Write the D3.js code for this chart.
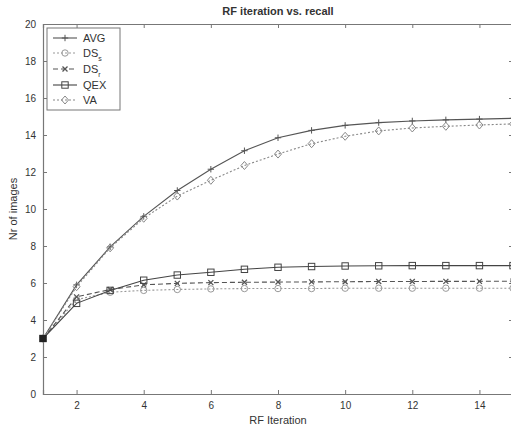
<!DOCTYPE html>
<html>
<head>
<meta charset="utf-8">
<script src="https://cdn.jsdelivr.net/npm/d3@7"></script>
<style>
  body { margin: 0; background: #fff; }
  text { font-family: "Liberation Sans", Arial, sans-serif; fill: #333; }
</style>
</head>
<body>
<div id="chart"></div>
<script>
var iterations = [1, 2, 3, 4, 5, 6, 7, 8, 9, 10, 11, 12, 13, 14, 15];
var avg = [3, 5.9, 7.95, 9.6, 11.0, 12.15, 13.15, 13.85, 14.25, 14.52, 14.67, 14.76, 14.82, 14.86, 14.9];
var dsS = [3, 5.1, 5.5, 5.6, 5.65, 5.68, 5.7, 5.7, 5.7, 5.72, 5.72, 5.72, 5.72, 5.72, 5.72];
var dsR = [3, 5.25, 5.65, 5.9, 5.98, 6.02, 6.04, 6.05, 6.06, 6.07, 6.08, 6.08, 6.09, 6.09, 6.1];
var qex = [3, 4.9, 5.6, 6.15, 6.43, 6.58, 6.74, 6.85, 6.89, 6.92, 6.93, 6.94, 6.94, 6.94, 6.94];
var va = [3, 5.8, 7.9, 9.5, 10.7, 11.55, 12.35, 12.97, 13.53, 13.93, 14.22, 14.38, 14.47, 14.54, 14.6];
var xTicks = [2, 4, 6, 8, 10, 12, 14];
var yTicks = [0, 2, 4, 6, 8, 10, 12, 14, 16, 18, 20];

var width = 511, height = 432;
var margin = {top: 24, left: 43, right: -2, bottom: 38};

var svg = d3.select("#chart")
  .append("svg")
  .attr("width", width)
  .attr("height", height);

var xScale = d3.scaleLinear()
  .domain([1, 15])
  .range([margin.left, width - margin.right]);

var yScale = d3.scaleLinear()
  .domain([0, 20])
  .range([height - margin.bottom, margin.top]);

var axisColor = "#777";

// bottom + top axes, ticks pointing inward
var xAxis = svg.append("g")
  .attr("transform", `translate(0,${yScale(0)})`)
  .call(d3.axisBottom(xScale).tickValues(xTicks).tickSize(-4).tickPadding(8).tickFormat(d3.format("d")));
svg.append("g")
  .attr("transform", `translate(0,${yScale(20)})`)
  .call(d3.axisTop(xScale).tickValues(xTicks).tickSize(-4).tickFormat(""));

var yAxis = svg.append("g")
  .attr("transform", `translate(${xScale(1)},0)`)
  .call(d3.axisLeft(yScale).tickValues(yTicks).tickSize(-4).tickPadding(7));
svg.append("g")
  .attr("transform", `translate(${xScale(15)},0)`)
  .call(d3.axisRight(yScale).tickValues(yTicks).tickSize(-4).tickFormat(""));

svg.selectAll(".domain").attr("stroke", axisColor).attr("stroke-width", 1.2);
svg.selectAll(".tick line").attr("stroke", axisColor);
svg.selectAll(".tick text").attr("font-size", 10).attr("fill", "#333")
  .attr("font-family", "Liberation Sans, Arial, sans-serif");

var series = [
  {name: "AVG", sub: "", values: avg, color: "#555", dash: null, marker: "plus"},
  {name: "DS", sub: "s", values: dsS, color: "#999", dash: "2,2", marker: "circle"},
  {name: "DS", sub: "r", values: dsR, color: "#555", dash: "5,3", marker: "cross"},
  {name: "QEX", sub: "", values: qex, color: "#444", dash: null, marker: "square"},
  {name: "VA", sub: "", values: va, color: "#888", dash: "2,2", marker: "diamond"}
];

var line = d3.line()
  .x(function(d, i) { return xScale(iterations[i]); })
  .y(function(d) { return yScale(d); });

function drawMarker(g, type, x, y, color) {
  var s = 3.2;
  if (type === "plus") {
    g.append("path").attr("d", `M${x - s},${y}H${x + s}M${x},${y - s}V${y + s}`)
      .attr("stroke", color).attr("fill", "none");
  } else if (type === "cross") {
    g.append("path").attr("d", `M${x - 2.5},${y - 2.5}L${x + 2.5},${y + 2.5}M${x - 2.5},${y + 2.5}L${x + 2.5},${y - 2.5}`)
      .attr("stroke", color).attr("stroke-width", 1.3).attr("fill", "none");
  } else if (type === "circle") {
    g.append("circle").attr("cx", x).attr("cy", y).attr("r", s)
      .attr("stroke", color).attr("fill", "none");
  } else if (type === "square") {
    g.append("rect").attr("x", x - s).attr("y", y - s).attr("width", 2 * s).attr("height", 2 * s)
      .attr("stroke", color).attr("fill", "none");
  } else if (type === "diamond") {
    g.append("path").attr("d", `M${x},${y - 4}L${x + 3.5},${y}L${x},${y + 4}L${x - 3.5},${y}Z`)
      .attr("stroke", color).attr("fill", "none");
  }
}

var plot = svg.append("g");
series.forEach(function(s) {
  plot.append("path")
    .datum(s.values)
    .attr("d", line)
    .attr("fill", "none")
    .attr("stroke", s.color)
    .attr("stroke-width", 1.1)
    .attr("stroke-dasharray", s.dash);
  var mg = plot.append("g");
  s.values.forEach(function(v, i) {
    drawMarker(mg, s.marker, xScale(iterations[i]), yScale(v), s.color);
  });
});

// start point looks filled in the reference
plot.append("rect")
  .attr("x", xScale(1) - 3.5).attr("y", yScale(qex[0]) - 3.5)
  .attr("width", 7).attr("height", 7).attr("fill", "#222");

// title and axis labels
svg.append("text")
  .attr("x", (xScale(1) + xScale(15)) / 2)
  .attr("y", 15)
  .attr("text-anchor", "middle")
  .attr("font-weight", "bold")
  .attr("font-size", 11)
  .text("RF iteration vs. recall");

svg.append("text")
  .attr("x", (xScale(1) + xScale(15)) / 2)
  .attr("y", 424)
  .attr("text-anchor", "middle")
  .attr("font-size", 11)
  .text("RF Iteration");

svg.append("text")
  .attr("transform", `translate(17,${(yScale(0) + yScale(20)) / 2}) rotate(-90)`)
  .attr("text-anchor", "middle")
  .attr("font-size", 11)
  .text("Nr of images");

// legend
var legend = svg.append("g");
legend.append("rect")
  .attr("x", 47).attr("y", 28).attr("width", 73).attr("height", 82)
  .attr("fill", "#fff").attr("stroke", axisColor);

var legendY = [38, 53, 69, 85, 100];
series.forEach(function(s, i) {
  var y = legendY[i];
  legend.append("line")
    .attr("x1", 53).attr("x2", 77).attr("y1", y).attr("y2", y)
    .attr("stroke", s.color).attr("stroke-width", 1.1)
    .attr("stroke-dasharray", s.dash);
  drawMarker(legend, s.marker, 65, y, s.color);
  var t = legend.append("text")
    .attr("x", 83).attr("y", y + 4)
    .attr("font-size", 11)
    .text(s.name);
  if (s.sub) {
    t.append("tspan").attr("dy", 4).attr("font-size", 7).text(s.sub);
  }
});
</script>
</body>
</html>
